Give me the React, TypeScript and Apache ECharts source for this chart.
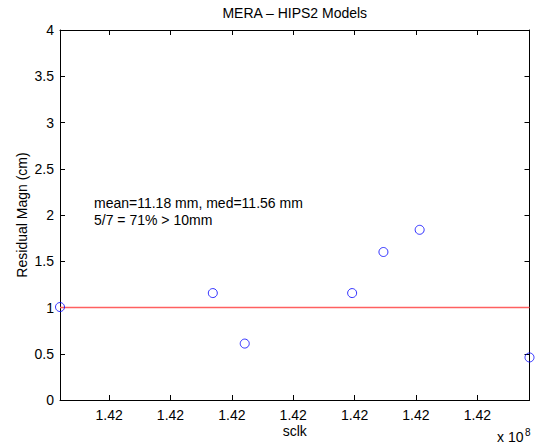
import React, { useEffect, useRef } from "react";
import * as echarts from "echarts";

// x positions in axis units (1 unit = one tick spacing of the sclk axis)
const xMin = 0;
const xMax = 7.65;
const xTickValues = [0.8, 1.8, 2.8, 3.8, 4.8, 5.8, 6.8];
const xTickLabels = ["1.42", "1.42", "1.42", "1.42", "1.42", "1.42", "1.42"];

const sclkPos = [0, 2.49, 3.01, 4.76, 5.27, 5.86, 7.65];
const residualCm = [1.005, 1.156, 0.61, 1.156, 1.6, 1.84, 0.46];
const thresholdCm = 1;

const yMin = 0;
const yMax = 4;
const yInterval = 0.5;

const titleText = "MERA \u2013 HIPS2 Models";
const xName = "sclk";
const yName = "Residual Magn (cm)";
const annotLines = ["mean=11.18 mm, med=11.56 mm", "5/7 = 71% > 10mm"];

const FONT = "'Liberation Sans', Arial, Helvetica, sans-serif";

export default function App() {
  const ref = useRef<HTMLDivElement>(null);
  useEffect(() => {
    if (!ref.current) return;
    const chart = echarts.init(ref.current, null, { renderer: "svg" });
    const gridLeft = 60;
    const gridTop = 30;
    const gridW = 469.5;
    const gridH = 370;
    const axisLine = { show: true, onZero: false, lineStyle: { color: "#000", width: 1 } };
    const baseText = { fontFamily: FONT, fontSize: 14, color: "#000" };
    chart.setOption({
      animation: false,
      backgroundColor: "#fff",
      grid: { left: gridLeft, top: gridTop, width: gridW, height: gridH, containLabel: false },
      xAxis: [
        {
          type: "value",
          min: xMin,
          max: xMax,
          position: "bottom",
          axisLine,
          axisTick: { show: true, inside: true, length: 5, customValues: xTickValues, lineStyle: { color: "#000" } },
          axisLabel: {
            show: true,
            customValues: xTickValues,
            formatter: (v: number) => {
              const i = xTickValues.findIndex((t) => Math.abs(t - v) < 1e-6);
              return i >= 0 ? xTickLabels[i] : "";
            },
            margin: 8,
            ...baseText,
          },
          splitLine: { show: false },
        },
        {
          type: "value",
          min: xMin,
          max: xMax,
          position: "top",
          axisLine,
          axisTick: { show: true, inside: true, length: 5, customValues: xTickValues, lineStyle: { color: "#000" } },
          axisLabel: { show: false },
          splitLine: { show: false },
        },
      ],
      yAxis: [
        {
          type: "value",
          min: yMin,
          max: yMax,
          interval: yInterval,
          position: "left",
          axisLine,
          axisTick: { show: true, inside: true, length: 5, lineStyle: { color: "#000" } },
          axisLabel: { show: true, margin: 6, ...baseText },
          splitLine: { show: false },
        },
        {
          type: "value",
          min: yMin,
          max: yMax,
          interval: yInterval,
          position: "right",
          axisLine,
          axisTick: { show: true, inside: true, length: 5, lineStyle: { color: "#000" } },
          axisLabel: { show: false },
          splitLine: { show: false },
        },
      ],
      series: [
        {
          type: "line",
          xAxisIndex: 0,
          yAxisIndex: 0,
          data: [
            [xMin, thresholdCm],
            [xMax, thresholdCm],
          ],
          symbol: "none",
          lineStyle: { color: "#ff6060", width: 1.5 },
          z: 2,
        },
        {
          type: "scatter",
          xAxisIndex: 0,
          yAxisIndex: 0,
          clip: false,
          data: sclkPos.map((x, i) => [x, residualCm[i]]),
          symbol: "circle",
          symbolSize: 9,
          itemStyle: { color: "transparent", borderColor: "#0000ff", borderWidth: 1 },
          z: 3,
        },
      ],
      graphic: [
        {
          type: "text",
          x: gridLeft + gridW / 2,
          y: 13,
          style: { text: titleText, font: `14px ${FONT}`, fill: "#000", textAlign: "center", textVerticalAlign: "middle" },
        },
        {
          type: "text",
          x: gridLeft + gridW / 2,
          y: 431,
          style: { text: xName, font: `14px ${FONT}`, fill: "#000", textAlign: "center", textVerticalAlign: "middle" },
        },
        {
          type: "text",
          x: 22,
          y: gridTop + gridH / 2,
          rotation: Math.PI / 2,
          style: { text: yName, font: `14px ${FONT}`, fill: "#000", textAlign: "center", textVerticalAlign: "middle" },
        },
        {
          type: "text",
          x: 497,
          y: 437,
          style: { text: "x 10", font: `14px ${FONT}`, fill: "#000", textAlign: "left", textVerticalAlign: "middle" },
        },
        {
          type: "text",
          x: 525,
          y: 432,
          style: { text: "8", font: `10px ${FONT}`, fill: "#000", textAlign: "left", textVerticalAlign: "middle" },
        },
        {
          type: "text",
          x: 94,
          y: 202.5,
          style: { text: annotLines[0], font: `14px ${FONT}`, fill: "#000", textAlign: "left", textVerticalAlign: "middle" },
        },
        {
          type: "text",
          x: 94,
          y: 220,
          style: { text: annotLines[1], font: `14px ${FONT}`, fill: "#000", textAlign: "left", textVerticalAlign: "middle" },
        },
      ],
    });
    return () => chart.dispose();
  }, []);
  return <div ref={ref} style={{ position: "absolute", left: 0, top: 0, width: 538, height: 446 }} />;
}
